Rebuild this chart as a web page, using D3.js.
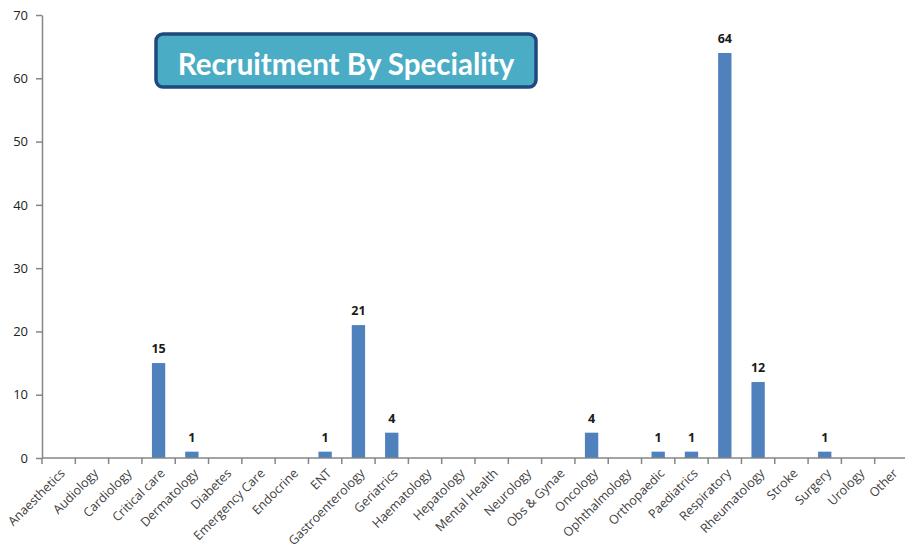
<!DOCTYPE html>
<html>
<head>
<meta charset="utf-8">
<script src="https://cdn.jsdelivr.net/npm/d3@7"></script>
<style>
  body { margin: 0; background: #fff; }
  svg { display: block; }
</style>
</head>
<body>
<div id="chart"></div>
<script>
const specialities = ["Anaesthetics", "Audiology", "Cardiology", "Critical care", "Dermatology", "Diabetes",
  "Emergency Care", "Endocrine", "ENT", "Gastroenterology", "Geriatrics", "Haematology", "Hepatology",
  "Mental Health", "Neurology", "Obs & Gynae", "Oncology", "Ophthalmology", "Orthopaedic", "Paediatrics",
  "Respiratory", "Rheumatology", "Stroke", "Surgery", "Urology", "Other"]
const recruits = [0, 0, 0, 15, 1, 0, 0, 0, 1, 21, 4, 0, 0, 0, 0, 0, 4, 0, 1, 1, 64, 12, 0, 1, 0, 0]
const yTicks = [0, 10, 20, 30, 40, 50, 60, 70]
const chartTitle = "Recruitment By Speciality"

const width = 905, height = 551
const margin = { top: 15, right: -3, bottom: 93, left: 42 }

const data = specialities.map((s, i) => ({ name: s, value: recruits[i] }))

const svg = d3.select("#chart").append("svg")
  .attr("width", width)
  .attr("height", height)

// x axis
const x = d3.scaleBand()
  .domain(specialities)
  .range([margin.left, width - margin.right])
  .paddingInner(0.6)
  .paddingOuter(0.3)

// y axis
const y = d3.scaleLinear()
  .domain([0, 70])
  .range([height - margin.bottom, margin.top])

const axisColor = "#868686"

// bars
svg.append("g")
  .attr("fill", "#4F81BD")
  .selectAll("rect")
  .data(data.filter(d => d.value > 0))
  .join("rect")
  .attr("x", d => x(d.name))
  .attr("y", d => y(d.value))
  .attr("width", x.bandwidth())
  .attr("height", d => y(0) - y(d.value))

// value labels
svg.append("g")
  .attr("font-family", "'Open Sans', sans-serif")
  .attr("font-size", 12.5)
  .attr("font-weight", "bold")
  .attr("fill", "#1a1a1a")
  .attr("text-anchor", "middle")
  .selectAll("text")
  .data(data.filter(d => d.value > 0))
  .join("text")
  .attr("x", d => x(d.name) + x.bandwidth() / 2)
  .attr("y", d => y(d.value) - 10)
  .text(d => d.value)

// y axis
const yAxis = svg.append("g")
  .attr("transform", `translate(${margin.left},0)`)
  .call(d3.axisLeft(y).tickValues(yTicks).tickSize(6).tickSizeOuter(0).tickPadding(8))
yAxis.select(".domain").attr("stroke", axisColor).attr("stroke-width", 1.5)
yAxis.selectAll(".tick line").attr("stroke", axisColor).attr("stroke-width", 1.5)
yAxis.selectAll(".tick text")
  .attr("font-family", "'Open Sans', sans-serif")
  .attr("font-size", 13)
  .attr("fill", "#222")

// x axis, ticks between categories
const xAxisG = svg.append("g")
  .attr("transform", `translate(0,${y(0)})`)
xAxisG.append("line")
  .attr("x1", margin.left).attr("x2", width)
  .attr("stroke", axisColor).attr("stroke-width", 1.5)
const step = x.step()
const bounds = specialities.map((s, i) => x(s) + x.bandwidth() / 2 - step / 2)
xAxisG.selectAll("line.tk")
  .data(bounds)
  .join("line")
  .attr("class", "tk")
  .attr("x1", d => d).attr("x2", d => d)
  .attr("y1", 0).attr("y2", 6)
  .attr("stroke", axisColor).attr("stroke-width", 1.5)

xAxisG.selectAll("text")
  .data(specialities)
  .join("text")
  .attr("transform", d => `translate(${x(d) + x.bandwidth() / 2 + 4},${13}) rotate(-45)`)
  .attr("text-anchor", "end")
  .attr("dy", "0.35em")
  .attr("font-family", "'Open Sans', sans-serif")
  .attr("font-size", 12.5)
  .attr("fill", "#404040")
  .text(d => d)

// title box
const tb = svg.append("g")
tb.append("rect")
  .attr("x", 156).attr("y", 34)
  .attr("width", 380).attr("height", 53)
  .attr("rx", 7)
  .attr("fill", "#4BACC6")
  .attr("stroke", "#1F497D")
  .attr("stroke-width", 3.5)
tb.append("text")
  .attr("x", 346).attr("y", 65)
  .attr("dy", "0.35em")
  .attr("text-anchor", "middle")
  .attr("font-family", "Lato, 'Open Sans', sans-serif")
  .attr("font-weight", "bold")
  .attr("font-size", 29.5)
  .attr("fill", "#fff")
  .text(chartTitle)
</script>
</body>
</html>
